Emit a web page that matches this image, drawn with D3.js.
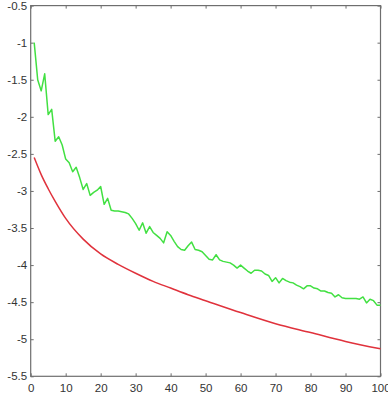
<!DOCTYPE html>
<html><head><meta charset="utf-8">
<script src="https://cdn.jsdelivr.net/npm/d3@7"></script>
<style>
html,body{margin:0;padding:0;background:#fff;overflow:hidden;}
svg{display:block;}
</style></head>
<body>
<svg id="c" width="388" height="402"></svg>
<script>
// ---- data ----
const greenX = d3.range(1, 101);
const greenY = [
 -1.00,-1.50,-1.65,-1.42,-1.97,-1.90,-2.33,-2.27,-2.38,-2.57,
 -2.62,-2.74,-2.68,-2.82,-2.98,-2.90,-3.06,-3.02,-2.99,-2.94,
 -3.18,-3.10,-3.26,-3.27,-3.27,-3.28,-3.29,-3.31,-3.37,-3.44,
 -3.53,-3.43,-3.57,-3.48,-3.56,-3.60,-3.64,-3.70,-3.55,-3.60,
 -3.68,-3.75,-3.79,-3.80,-3.74,-3.69,-3.79,-3.80,-3.82,-3.87,
 -3.92,-3.93,-3.86,-3.93,-3.95,-3.96,-3.97,-4.00,-4.04,-4.00,
 -4.04,-4.08,-4.11,-4.07,-4.07,-4.08,-4.12,-4.14,-4.22,-4.17,
 -4.24,-4.18,-4.21,-4.23,-4.24,-4.27,-4.29,-4.32,-4.28,-4.28,
 -4.31,-4.32,-4.35,-4.35,-4.37,-4.38,-4.43,-4.40,-4.44,-4.45,
 -4.45,-4.45,-4.45,-4.46,-4.43,-4.51,-4.46,-4.48,-4.54,-4.54
];
const redX = [1,3,5,7,10,15,20,25,30,35,40,45,50,60,70,80,90,100];
const redY = [-2.55,-2.78,-2.97,-3.14,-3.37,-3.65,-3.85,-3.99,-4.11,-4.22,-4.31,-4.40,-4.48,-4.64,-4.79,-4.91,-5.03,-5.13];
const xTicks = [0,10,20,30,40,50,60,70,80,90,100];
const yTicks = [-0.5,-1,-1.5,-2,-2.5,-3,-3.5,-4,-4.5,-5,-5.5];

// ---- layout ----
const L = 30.7, R = 380.5, T = 5.6, B = 376.3;
const svg = d3.select("#c");
const x = d3.scaleLinear().domain([0,100]).range([L,R]);
const y = d3.scaleLinear().domain([-5.5,-0.5]).range([B,T]);
const axisColor = "#6e6e6e";
const font = "'Liberation Sans Narrow','Liberation Sans',Arial,sans-serif";
const fmt = d => String(d);

function styleAxis(g){
  g.select(".domain").remove();
  g.selectAll(".tick line").attr("stroke", axisColor);
  g.selectAll(".tick text").attr("fill","#333").style("font-family",font).style("font-size","11.5px");
}

// bottom axis (ticks inward)
svg.append("g").attr("transform",`translate(0,${B})`)
  .call(d3.axisBottom(x).tickValues(xTicks).tickFormat(fmt).tickSizeInner(-3).tickSizeOuter(0).tickPadding(8))
  .call(styleAxis);
// top axis ticks only
svg.append("g").attr("transform",`translate(0,${T})`)
  .call(d3.axisTop(x).tickValues(xTicks).tickFormat("").tickSizeInner(-3).tickSizeOuter(0))
  .call(styleAxis);
// left axis
svg.append("g").attr("transform",`translate(${L},0)`)
  .call(d3.axisLeft(y).tickValues(yTicks).tickFormat(fmt).tickSizeInner(-3).tickSizeOuter(0).tickPadding(3.5))
  .call(styleAxis);
// right axis ticks only
svg.append("g").attr("transform",`translate(${R},0)`)
  .call(d3.axisRight(y).tickValues(yTicks).tickFormat("").tickSizeInner(-3).tickSizeOuter(0))
  .call(styleAxis);

// box
svg.append("rect").attr("x",L).attr("y",T).attr("width",R-L).attr("height",B-T)
  .attr("fill","none").attr("stroke",axisColor).attr("stroke-width",1.2);

const line = d3.line().x(d=>x(d[0])).y(d=>y(d[1]));
svg.append("path").datum(redX.map((v,i)=>[v,redY[i]]))
  .attr("d", line.curve(d3.curveMonotoneX)).attr("fill","none")
  .attr("stroke","#e0323c").attr("stroke-width",1.5);
svg.append("path").datum(greenX.map((v,i)=>[v,greenY[i]]))
  .attr("d", d3.line().x(d=>x(d[0])).y(d=>y(d[1]))).attr("fill","none")
  .attr("stroke","#42e042").attr("stroke-width",1.5).attr("stroke-linejoin","round");
</script>
</body></html>
